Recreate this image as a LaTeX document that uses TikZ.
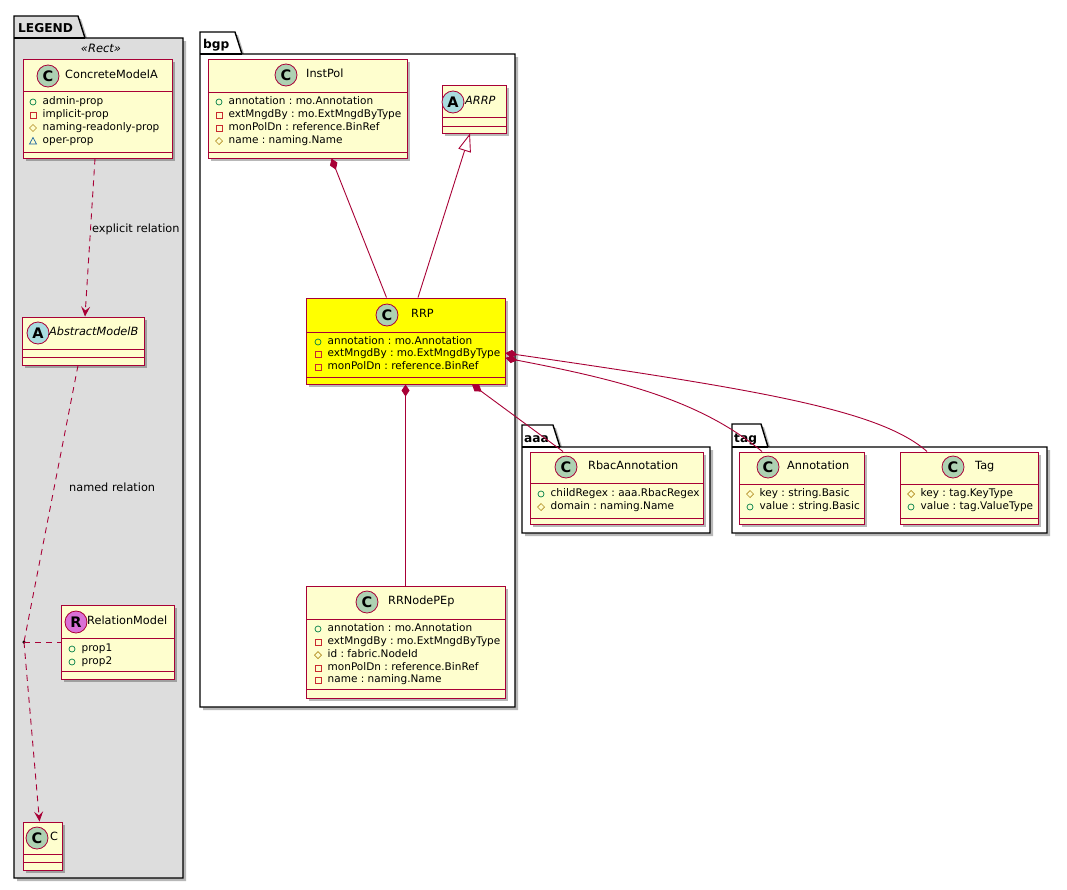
\documentclass[tikz,border=0pt]{standalone}
\usepackage{fontspec}
\setmainfont{DejaVu Sans}
\usetikzlibrary{arrows.meta,shadows,fit}
\definecolor{border}{HTML}{A80036}
\definecolor{classfill}{HTML}{FEFECE}
\definecolor{cfill}{HTML}{ADD1B2}
\definecolor{afill}{HTML}{A9DCDF}
\definecolor{rfill}{HTML}{DA70D6}
\definecolor{pubc}{HTML}{038048}
\definecolor{privc}{HTML}{C82930}
\definecolor{protc}{HTML}{B38D22}
\definecolor{packc}{HTML}{1963A0}
\definecolor{legendgray}{HTML}{DDDDDD}
\definecolor{hiyellow}{HTML}{FFFF00}
\newcount\attrcnt
\frenchspacing
\tikzset{
  shadowed/.style={drop shadow={shadow xshift=3pt,shadow yshift=-3pt,opacity=0.28,fill=black}},
  classbox/.style={draw=border,line width=1pt,inner sep=0pt,shadowed},
  classline/.style={draw=border,line width=1pt},
  badge/.style={circle,draw=border,line width=0.8pt,minimum size=22pt,inner sep=0pt,
    font=\bfseries\fontsize{14.5}{14.5}\selectfont},
  cname/.style={anchor=mid west,inner sep=0pt,font=\fontsize{11.3}{13}\selectfont},
  attrtext/.style={anchor=mid west,inner sep=0pt,font=\fontsize{10.5}{12}\selectfont},
  pkgline/.style={draw=black,line width=1.4pt,shadowed},
  pkgsep/.style={draw=black,line width=1.4pt},
  pkglabel/.style={anchor=base west,inner sep=0pt,font=\bfseries\fontsize{12.2}{14}\selectfont},
  lbl/.style={anchor=mid west,inner sep=0pt,font=\fontsize{11.3}{13}\selectfont},
  comp/.style={draw=border,line width=0.9pt,arrows={Diamond[length=12pt,width=8pt]-}},
  inherit/.style={draw=border,line width=0.9pt,arrows={-Triangle[open,length=18pt,width=13pt]}},
  dep/.style={draw=border,line width=0.9pt,dash pattern=on 6pt off 5pt,
    arrows={-Stealth[length=10pt,width=9pt,inset=4pt]}},
  rel/.style={draw=border,line width=0.9pt,dash pattern=on 6pt off 5pt},
}
\newcommand\umlclass[8]{%
  \node[classbox,fill=#8,fit={(#2,#3) (#4,#5)}] (#1) {};
  \draw[classline] (#2,#6) -- (#4,#6);
  \draw[classline] (#2,#7) -- (#4,#7);}
\newcommand\chead[7]{%
  \node[badge,fill=#3] (#1-badge) at (#4,#5) {#2};
  \node[cname] (#1-name) at (#6,#5) {#7};}
\newcommand\iconpub[2]{\draw[pubc,line width=0.7pt] (#1,#2) circle[radius=3];}
\newcommand\iconpriv[2]{\draw[privc,line width=0.7pt] ({#1-3},{#2-3}) rectangle ({#1+3},{#2+3});}
\newcommand\iconprot[2]{\draw[protc,line width=0.7pt] ({#1-3.5},#2) -- (#1,{#2-3.5}) -- ({#1+3.5},#2) -- (#1,{#2+3.5}) -- cycle;}
\newcommand\iconpack[2]{\draw[packc,line width=0.7pt] ({#1-3.5},{#2+3}) -- ({#1+3.5},{#2+3}) -- (#1,{#2-3.5}) -- cycle;}
\newcommand\attr[4]{%
  \global\advance\attrcnt by 1
  \csname icon#1\endcsname{#2}{#3}%
  \node[attrtext] (attr\the\attrcnt) at ({#2+9.5},#3) {#4};}
\newcommand\package[8]{%
  \draw[pkgline,fill=#8] (#2,#3) -- (#4,#3) -- ({#4+7},#5) -- (#6,#5) -- (#6,#7) -- (#2,#7) -- cycle;
  \draw[pkgsep] (#2,#5) -- ({#4+7},#5);}
\begin{document}
\begin{tikzpicture}[x=1pt,y=-1pt]
\useasboundingbox (0,0) rectangle (1067,889);
\fill[white] (0,0) rectangle (1067,889);
% packages
\package{legend}{14}{16}{78}{38}{183}{878}{legendgray}
\node[pkglabel] (pkg-legend) at (18,32) {LEGEND};
\node[anchor=mid,inner sep=0pt,font=\itshape\fontsize{11.5}{13}\selectfont] (stereo) at (101,50) {«Rect»};
\package{bgp}{200}{32}{235}{54}{515}{707}{white}
\node[pkglabel] (pkg-bgp) at (203,48) {bgp};
\package{aaa}{522}{425}{553}{447}{710}{533}{white}
\node[pkglabel] (pkg-aaa) at (524,442) {aaa};
\package{tag}{732}{424}{761}{447}{1047}{533}{white}
\node[pkglabel] (pkg-tag) at (734,442) {tag};
% legend classes
\umlclass{concrete}{23}{59}{172}{158}{91}{152}{classfill}
\chead{concrete}{C}{cfill}{48}{76}{65}{ConcreteModelA}
\attr{pub}{33}{102}{admin-prop}
\attr{priv}{33}{115}{implicit-prop}
\attr{prot}{33}{128}{naming-readonly-prop}
\attr{pack}{33}{141}{oper-prop}
\umlclass{abstractb}{22}{317}{144}{365}{349}{357}{classfill}
\chead{abstractb}{A}{afill}{38}{333}{49}{\itshape AbstractModelB}
\umlclass{relmodel}{61}{605}{174}{679}{638}{671}{classfill}
\chead{relmodel}{R}{rfill}{76}{622}{87}{RelationModel}
\attr{pub}{72}{649}{prop1}
\attr{pub}{72}{662}{prop2}
\umlclass{cnode}{23}{822}{62}{870}{854}{862}{classfill}
\chead{cnode}{C}{cfill}{37}{838}{50}{C}
% bgp classes
\umlclass{instpol}{208}{59}{407}{158}{92}{152}{classfill}
\chead{instpol}{C}{cfill}{286}{75}{306}{InstPol}
\attr{pub}{219}{102}{annotation : mo.Annotation}
\attr{priv}{219}{115}{extMngdBy : mo.ExtMngdByType}
\attr{priv}{219}{128}{monPolDn : reference.BinRef}
\attr{prot}{219}{141}{name : naming.Name}
\umlclass{arrp}{442}{85}{506}{133}{117}{126}{classfill}
\chead{arrp}{A}{afill}{453}{102}{465}{\itshape ARRP}
\umlclass{rrp}{306}{298}{505}{384}{332}{377}{hiyellow}
\chead{rrp}{C}{cfill}{387}{315}{411}{RRP}
\attr{pub}{318}{342}{annotation : mo.Annotation}
\attr{priv}{318}{354}{extMngdBy : mo.ExtMngdByType}
\attr{priv}{318}{367}{monPolDn : reference.BinRef}
\umlclass{rrnodepep}{306}{586}{505}{698}{619}{689}{classfill}
\chead{rrnodepep}{C}{cfill}{367}{602}{388}{RRNodePEp}
\attr{pub}{318}{629}{annotation : mo.Annotation}
\attr{priv}{318}{642}{extMngdBy : mo.ExtMngdByType}
\attr{prot}{318}{655}{id : fabric.NodeId}
\attr{priv}{318}{668}{monPolDn : reference.BinRef}
\attr{priv}{318}{680}{name : naming.Name}
% aaa
\umlclass{rbac}{530}{452}{703}{524}{483}{518}{classfill}
\chead{rbac}{C}{cfill}{566}{467}{588}{RbacAnnotation}
\attr{pub}{541}{494}{childRegex : aaa.RbacRegex}
\attr{prot}{541}{507}{domain : naming.Name}
% tag
\umlclass{annot}{739}{452}{864}{524}{484}{518}{classfill}
\chead{annot}{C}{cfill}{768}{467}{787}{Annotation}
\attr{prot}{750}{494}{key : string.Basic}
\attr{pub}{750}{507}{value : string.Basic}
\umlclass{tagc}{900}{452}{1038}{524}{484}{518}{classfill}
\chead{tagc}{C}{cfill}{953}{467}{975}{Tag}
\attr{prot}{911}{494}{key : tag.KeyType}
\attr{pub}{911}{507}{value : tag.ValueType}
% legend connectors
\node[circle,fill=black,inner sep=0pt,minimum size=3.5pt] (dot) at (24,642) {};
\draw[dep] ([xshift=-2.5pt]concrete.south) -- ([xshift=2pt]abstractb.north);
\node[lbl] (lbl-explicit) at (92,230) {explicit relation};
\draw[rel] ([xshift=-5pt]abstractb.south) -- (dot.center);
\draw[rel] (dot.center) -- (relmodel.west);
\draw[dep] (dot.center) -- ([xshift=-3pt]cnode.north);
\node[lbl] (lbl-named) at (69,489) {named relation};
% bgp connectors
\draw[comp] ([xshift=24pt]instpol.south) -- ([xshift=-19pt]rrp.north);
\draw[inherit] ([xshift=12.5pt]rrp.north) -- ([xshift=-4pt]arrp.south);
\draw[comp] (rrp.south) -- (rrnodepep.north);
\draw[comp] ([xshift=66.5pt]rrp.south) -- ([xshift=-53.5pt]rbac.north);
\draw[comp] ([yshift=-17pt]rrp.east) .. controls (620,380) and (700,400) .. ([xshift=-39.5pt]annot.north);
\draw[comp] ([yshift=-12pt]rrp.east) .. controls (760,390) and (880,410) .. ([xshift=-42pt]tagc.north);
\end{tikzpicture}
\end{document}
